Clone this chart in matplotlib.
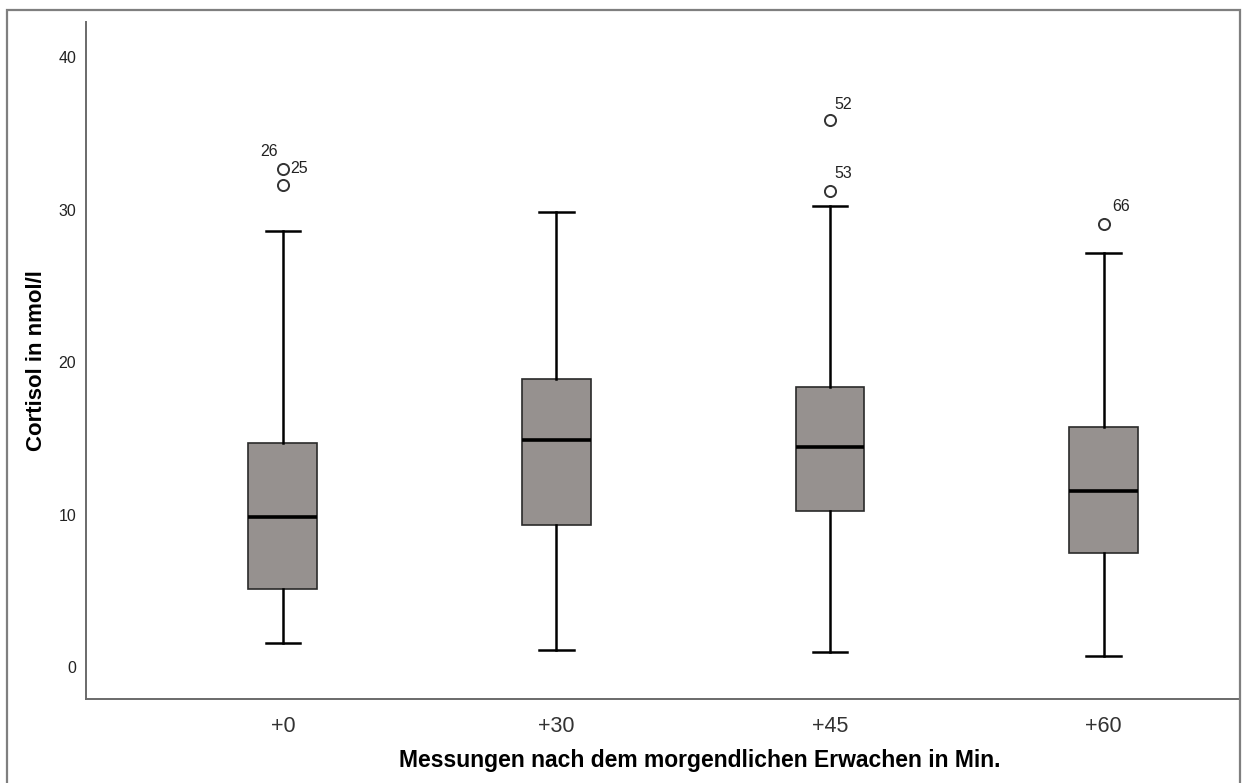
import matplotlib
matplotlib.use("Agg")
import matplotlib.pyplot as plt
from matplotlib.patches import Rectangle

plt.rcParams['font.family'] = ['Liberation Sans', 'DejaVu Sans']

categories = ["+0", "+30", "+45", "+60"]
whisker_low = [1.57, 1.11, 0.98, 0.72]
q1 = [5.10, 9.31, 10.23, 7.48]
median = [9.84, 14.89, 14.43, 11.54]
q3 = [14.70, 18.89, 18.36, 15.74]
whisker_high = [28.60, 29.84, 30.23, 27.15]
outliers = [[31.60, 32.66], [], [31.21, 35.87], [29.05]]
outlier_labels = [["", "25"], [], ["53", "52"], ["66"]]
extra_label = ("26", 0, 32.66)  # overlapping case labelled upper-left

yticks = [0, 10, 20, 30, 40]

# label placement (offset points, alignment) per label text
label_style = {
    "25": ((5.5, 0), 'left', 'center'),
    "52": ((3.5, 5.5), 'left', 'bottom'),
    "53": ((3.5, 7.5), 'left', 'bottom'),
    "66": ((6.5, 7.5), 'left', 'bottom'),
    "26": ((-3.5, 7.5), 'right', 'bottom'),
}

fig = plt.figure(figsize=(12.42, 7.83), dpi=100)
ax = fig.add_axes([86/1242, 1-699/783, (1240-86)/1242, (699-22)/783])

stats = []
for i in range(len(categories)):
    stats.append(dict(med=median[i], q1=q1[i], q3=q3[i],
                      whislo=whisker_low[i], whishi=whisker_high[i],
                      fliers=outliers[i], label=categories[i]))

ax.bxp(stats, positions=range(len(categories)), widths=0.252, patch_artist=True,
       boxprops=dict(facecolor='#96918f', edgecolor='#2a2a2a', linewidth=1.2),
       medianprops=dict(color='black', linewidth=2.6),
       whiskerprops=dict(color='black', linewidth=1.8),
       capprops=dict(color='black', linewidth=1.8),
       flierprops=dict(marker='o', markerfacecolor='white', markeredgecolor='#333333',
                       markersize=8, markeredgewidth=1.4))

def put_label(text, xi, v):
    off, ha, va = label_style[text]
    ax.annotate(text, (xi, v), xytext=off, textcoords='offset points',
                fontsize=11.5, ha=ha, va=va, color='#222222')

for i, (vals, labs) in enumerate(zip(outliers, outlier_labels)):
    for v, l in zip(vals, labs):
        if l:
            put_label(l, i, v)
put_label(*extra_label)

ax.set_xlim(-0.72, 3.499)
ax.set_ylim(-2.098, 42.30)
ax.set_yticks(yticks)
ax.set_yticklabels([str(t) for t in yticks])
ax.set_xticks(range(len(categories)))
ax.set_xticklabels(categories)
ax.tick_params(axis='y', length=0, pad=7, labelsize=11.5, labelcolor='#222222')
ax.tick_params(axis='x', length=0, pad=12, labelsize=15.5, labelcolor='#333333')
for s in ['top', 'right']:
    ax.spines[s].set_visible(False)
for s in ['left', 'bottom']:
    ax.spines[s].set_color('#6a6a6a')
    ax.spines[s].set_linewidth(1.4)

ax.set_ylabel("Cortisol in nmol/l", fontsize=16, fontweight='bold', labelpad=0)
ax.yaxis.set_label_coords(-(86-37)/(1240-86), 0.5)
ax.yaxis.label.set_va('center')
fig.text(700/1242, 1-760/783, "Messungen nach dem morgendlichen Erwachen in Min.",
         fontsize=16.5, fontweight='bold', ha='center', va='center')

# outer frame
fig.add_artist(Rectangle((7/1242, -0.05), (1240-7)/1242, 1.05-10/783,
                         transform=fig.transFigure, fill=False,
                         edgecolor='#7f7f7f', linewidth=1.6))

fig.savefig("out.png", dpi=100)
